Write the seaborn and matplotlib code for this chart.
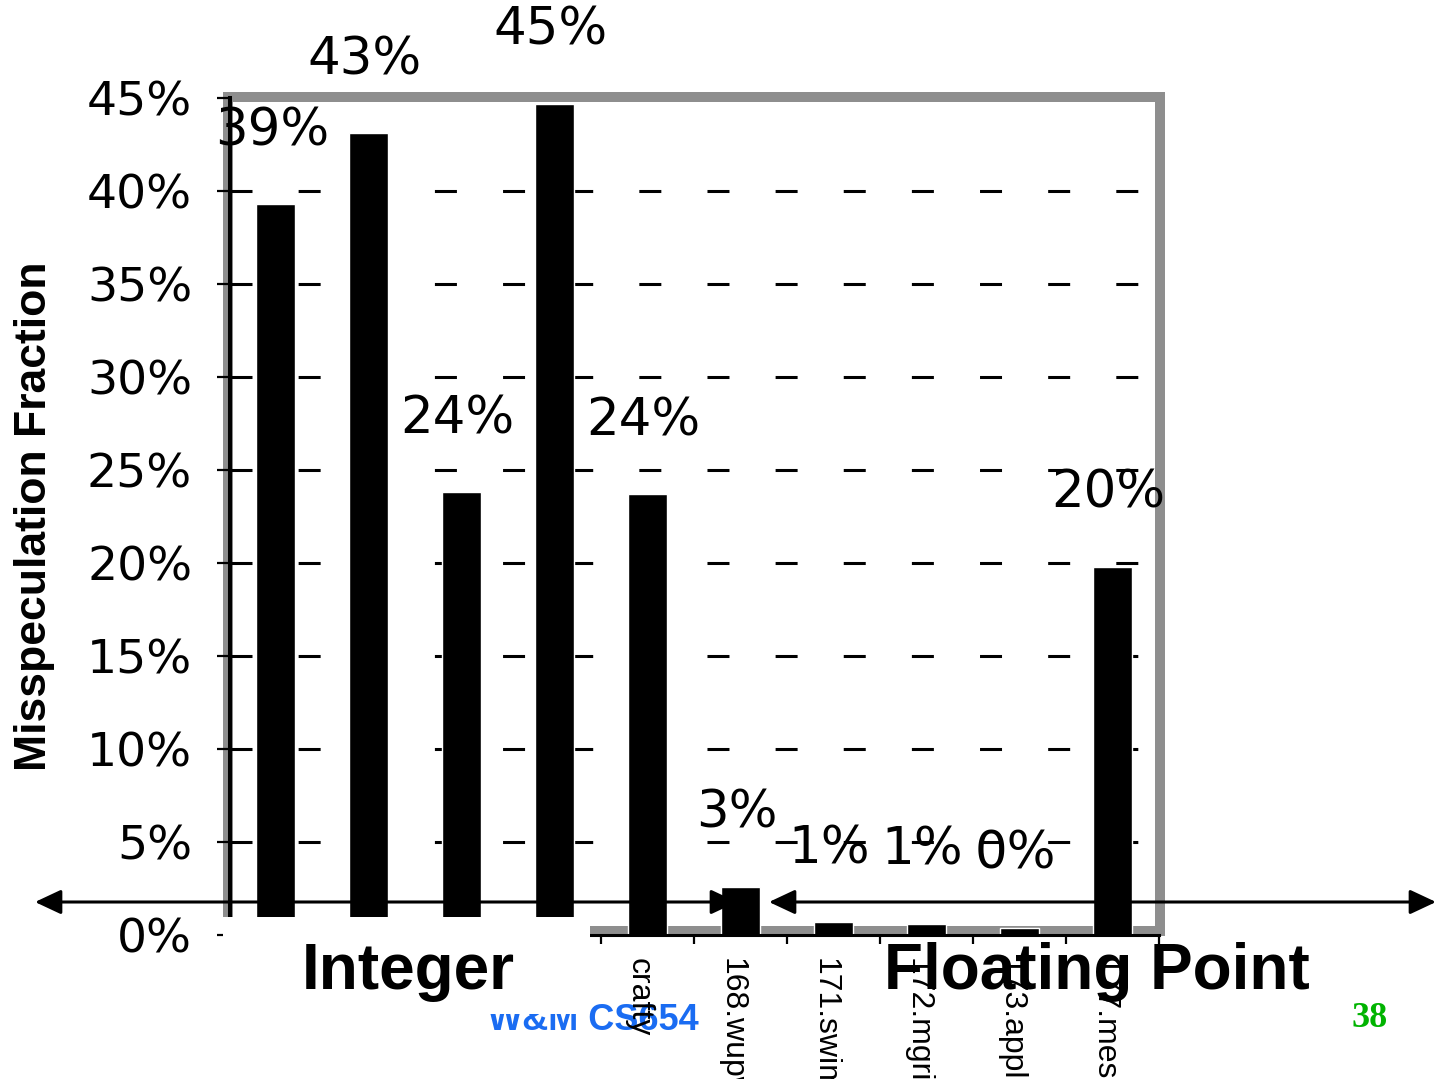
import numpy as np
import pandas as pd
import seaborn as sns
import matplotlib
matplotlib.use("Agg")
import matplotlib.pyplot as plt
import matplotlib.transforms as mtransforms
from matplotlib.patches import Rectangle, FancyArrowPatch
from matplotlib.ticker import PercentFormatter

# Misspeculation fraction per benchmark (integer group first, then floating point)
tick_labels = ["", "", "", "", "crafty", "168.wupwise", "171.swim",
               "172.mgrid", "173.applu", "177.mesa"]
misspec = [0.393, 0.431, 0.238, 0.447, 0.237, 0.026, 0.007, 0.006, 0.004, 0.198]
y_ticks = [0.00, 0.05, 0.10, 0.15, 0.20, 0.25, 0.30, 0.35, 0.40, 0.45]
group_names = ["Integer", "Floating Point"]
y_title = "Misspeculation Fraction"
footer_course = "W&M CS654"
footer_page = "38"

sns.set_theme(style="white")
plt.rcParams["font.family"] = ["DejaVu Sans"]
plt.rcParams.update({"text.color": "black", "axes.labelcolor": "black",
                     "xtick.color": "black", "ytick.color": "black"})

W, H = 1437, 1079
fig = plt.figure(figsize=(W / 100, H / 100), dpi=100)
fig.patch.set_facecolor("white")


def fx(px):
    return px / W


def fy(py):
    return 1 - py / H


ax = fig.add_axes([fx(229.5), fy(935), fx(1159) - fx(229.5), fy(98) - fy(935)])
ax.patch.set_alpha(0)

df = pd.DataFrame({"pos": np.arange(len(misspec)), "value": misspec})
sns.barplot(data=df, x="pos", y="value", color="black", saturation=1,
            width=0.42, ax=ax)

ax.set_xlim(-0.5, len(misspec) - 0.5)
ax.set_ylim(0, 0.45)

# y axis: percent ticks and dashed grid
ax.set_yticks(y_ticks)
ax.yaxis.set_major_formatter(PercentFormatter(1.0, decimals=0))
ax.tick_params(axis="y", which="major", left=True, direction="out",
               length=9.4, width=1.6, color="black", labelcolor="black",
               pad=17.5, labelsize=34)
ax.grid(axis="y", color="black", linewidth=2.2, linestyle=(0, (7.2, 15.1)))
ax.set_axisbelow(True)
for t in ax.yaxis.get_major_ticks():
    t.gridline.set_visible(False)
for t in ax.yaxis.get_major_ticks()[1:-1]:
    t.gridline.set_visible(True)

# x axis: benchmark names rotated, ticks at category boundaries
ax.set_xticks(np.arange(len(misspec)))
ax.set_xticklabels(tick_labels, rotation=270, fontsize=23,
                   family="Liberation Sans", color="black")
ax.tick_params(axis="x", which="major", length=0, pad=16.5)
ax.set_xticks(np.arange(-0.5, len(misspec), 1), minor=True)
ax.tick_params(axis="x", which="minor", bottom=True, direction="out",
               length=6.5, width=1.6, color="black")
ax.set_xlabel("")
shift = mtransforms.ScaledTranslation(-0.09, 0, fig.dpi_scale_trans)
for lbl in ax.get_xticklabels():
    lbl.set_transform(lbl.get_transform() + shift)

for side in ("top", "right"):
    ax.spines[side].set_visible(False)
ax.spines["left"].set_color("black")
ax.spines["left"].set_linewidth(2.9)
ax.spines["bottom"].set_color("black")
ax.spines["bottom"].set_linewidth(2.2)

ax.set_ylabel(y_title, fontsize=32, fontweight="bold", family="Liberation Sans",
              color="black")
ax.yaxis.set_label_coords(-0.1877, 0.5)

# value labels above each bar
for i, v in enumerate(misspec):
    ax.annotate(f"{v:.0%}", xy=(i, v), xytext=(-3, 52.5),
                textcoords="offset points", ha="center", va="center",
                fontsize=37, color="black", annotation_clip=False)

# grey plot-area frame
frame = Rectangle((fx(228), fy(931)), fx(1160) - fx(228), fy(97) - fy(931),
                  transform=fig.transFigure, fill=False,
                  edgecolor="#8e8e8e", linewidth=7.2, zorder=-1)
fig.add_artist(frame)

# footer course tag (partly hidden under the group-label panel)
fig.text(fx(593.5), fy(1030), footer_course, ha="center", va="baseline",
         fontsize=26, fontweight="bold", color="#1a6cf2",
         family="Liberation Sans", zorder=-0.5)

# white panel holding the "Integer" group label
panel = Rectangle((fx(223), fy(1014)), fx(590) - fx(223), fy(917) - fy(1014),
                  transform=fig.transFigure, facecolor="white",
                  edgecolor="none", zorder=3)
fig.add_artist(panel)

# group range arrows
for (xa, xb) in [(35, 737), (769, 1436)]:
    arr = FancyArrowPatch((fx(xa), fy(902)), (fx(xb), fy(902)),
                          transform=fig.transFigure,
                          arrowstyle="<|-|>,head_length=16,head_width=7.5",
                          mutation_scale=1, shrinkA=0, shrinkB=0,
                          color="black", linewidth=2.2, zorder=2)
    fig.add_artist(arr)

# group names
for name, cx in zip(group_names, [408, 1097]):
    fig.text(fx(cx), fy(989), name, ha="center", va="baseline", fontsize=46,
             fontweight="bold", family="Liberation Sans", color="black",
             zorder=4)

# page number
fig.text(fx(1370), fy(1027), footer_page, ha="center", va="baseline",
         fontsize=26, fontweight="bold", family="Liberation Serif",
         color="#00b300", zorder=4)

fig.savefig("out.png", dpi=100, facecolor="white")
